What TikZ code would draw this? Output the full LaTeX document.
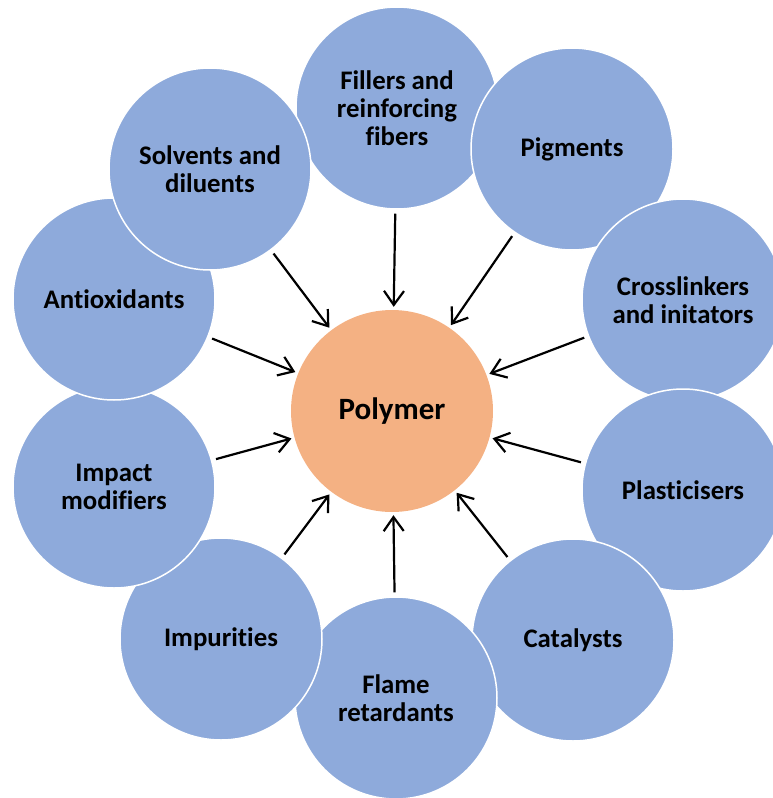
\documentclass[tikz,border=0pt]{standalone}
\usepackage{fontspec}
\setmainfont{Carlito}[Ligatures={NoCommon}]
\usetikzlibrary{arrows.meta}

\definecolor{bubbleblue}{HTML}{8EAADB}
\definecolor{coreorange}{HTML}{F4B183}

\begin{document}
\begin{tikzpicture}[
		x=1pt, y=-1pt,
		bubble/.style={circle, fill=bubbleblue, draw=white, line width=1.5pt, minimum size=202pt, inner sep=0pt, align=center, font=\bfseries\fontsize{26.8}{28}\selectfont},
		core/.style={circle, fill=coreorange, minimum size=202pt, inner sep=0pt, font=\bfseries\fontsize{31}{34}\selectfont},
		feed/.style={line width=2.2pt, -{Straight Barb[length=14pt, width=20pt]}, shorten <=4pt, shorten >=3pt}
	]

	\useasboundingbox (0,0) rectangle (773,798);

	% the ring of additives, each one laid over the one before
	\node[bubble] (fill) at (397,108) {Fillers and\\reinforcing\\fibers};
	\node[bubble] (pigm) at (572,149) {Pigments};
	\node[bubble] (cross) at (683,300) {Crosslinkers\\and initators};
	\node[bubble] (plast) at (683,490) {Plasticisers};
	\node[bubble] (cata) at (573,640) {Catalysts};
	\node[bubble] (flame) at (396,698) {Flame\\retardants};
	\node[bubble] (impur) at (221,639) {Impurities};
	\node[bubble] (impact) at (114,487) {Impact\\modifiers};
	\node[bubble] (antiox) at (114,299) {Antioxidants};
	\node[bubble] (solv) at (210,169) {Solvents and\\diluents};

	% the polymer in the middle
	\node[core] (poly) at (392,411) {Polymer};

	% everything feeds into the polymer
	\foreach \n in {fill, pigm, cross, plast, cata, flame, impur, impact, antiox, solv}
		\draw[feed] (\n) -- (poly);

\end{tikzpicture}
\end{document}
